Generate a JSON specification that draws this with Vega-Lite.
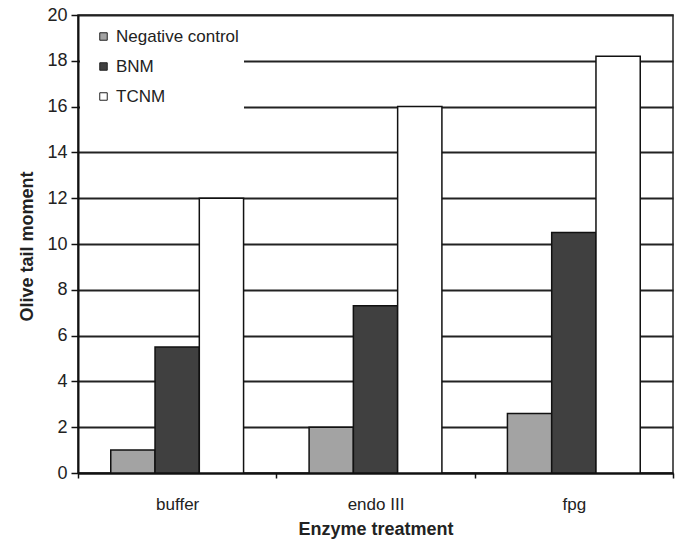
{
  "$schema": "https://vega.github.io/schema/vega-lite/v6.json",
  "autosize": "none",
  "width": 595,
  "height": 458,
  "padding": {"left": 78, "top": 15, "right": 10, "bottom": 71},
  "background": "white",
  "config": {
    "font": "Liberation Sans",
    "view": {"stroke": "#222", "strokeWidth": 1.5},
    "axis": {"labelColor": "#222", "titleColor": "#222"}
  },
  "data": {
    "values": [
      {"enzyme": "buffer", "group": "Negative control", "value": 1.0},
      {"enzyme": "buffer", "group": "BNM", "value": 5.5},
      {"enzyme": "buffer", "group": "TCNM", "value": 12.0},
      {"enzyme": "endo III", "group": "Negative control", "value": 2.0},
      {"enzyme": "endo III", "group": "BNM", "value": 7.3},
      {"enzyme": "endo III", "group": "TCNM", "value": 16.0},
      {"enzyme": "fpg", "group": "Negative control", "value": 2.6},
      {"enzyme": "fpg", "group": "BNM", "value": 10.5},
      {"enzyme": "fpg", "group": "TCNM", "value": 18.2}
    ]
  },
  "mark": {"type": "bar", "stroke": "#111", "strokeWidth": 1.5},
  "encoding": {
    "x": {
      "field": "enzyme",
      "type": "nominal",
      "sort": ["buffer", "endo III", "fpg"],
      "scale": {"paddingInner": 0, "paddingOuter": 0},
      "axis": {
        "title": "Enzyme treatment",
        "titleFontSize": 18,
        "titleFontWeight": "bold",
        "titlePadding": 8,
        "labelFontSize": 17,
        "labelPadding": 18,
        "labelAngle": 0,
        "tickBand": "extent",
        "tickSize": 5,
        "tickColor": "#111",
        "tickWidth": 1.5,
        "domainColor": "#111",
        "domainWidth": 2
      }
    },
    "xOffset": {
      "field": "group",
      "type": "nominal",
      "sort": ["Negative control", "BNM", "TCNM"],
      "scale": {"paddingInner": 0, "paddingOuter": 0.74}
    },
    "y": {
      "field": "value",
      "type": "quantitative",
      "scale": {"domain": [0, 20], "nice": false},
      "axis": {
        "title": "Olive tail moment",
        "titleFontSize": 18,
        "titleFontWeight": "bold",
        "titleX": -42,
        "titleY": 231,
        "values": [0, 2, 4, 6, 8, 10, 12, 14, 16, 18, 20],
        "labelFontSize": 18,
        "labelPadding": 4,
        "tickSize": 7,
        "tickColor": "#111",
        "tickWidth": 1.5,
        "domainColor": "#111",
        "domainWidth": 2,
        "grid": true,
        "gridColor": "#222",
        "gridWidth": 2,
        "gridOpacity": 1
      }
    },
    "fill": {
      "field": "group",
      "type": "nominal",
      "sort": ["Negative control", "BNM", "TCNM"],
      "scale": {
        "domain": ["Negative control", "BNM", "TCNM"],
        "range": ["#a3a3a3", "#404040", "#ffffff"]
      },
      "legend": {
        "title": null,
        "orient": "none",
        "legendX": 2,
        "legendY": 8,
        "padding": 5,
        "fillColor": "white",
        "symbolType": "square",
        "symbolSize": 56,
        "symbolOffset": 10,
        "symbolStrokeColor": "#222",
        "symbolStrokeWidth": 1,
        "labelFontSize": 17,
        "labelColor": "#222",
        "labelOffset": 4,
        "rowPadding": 12
      }
    }
  }
}
